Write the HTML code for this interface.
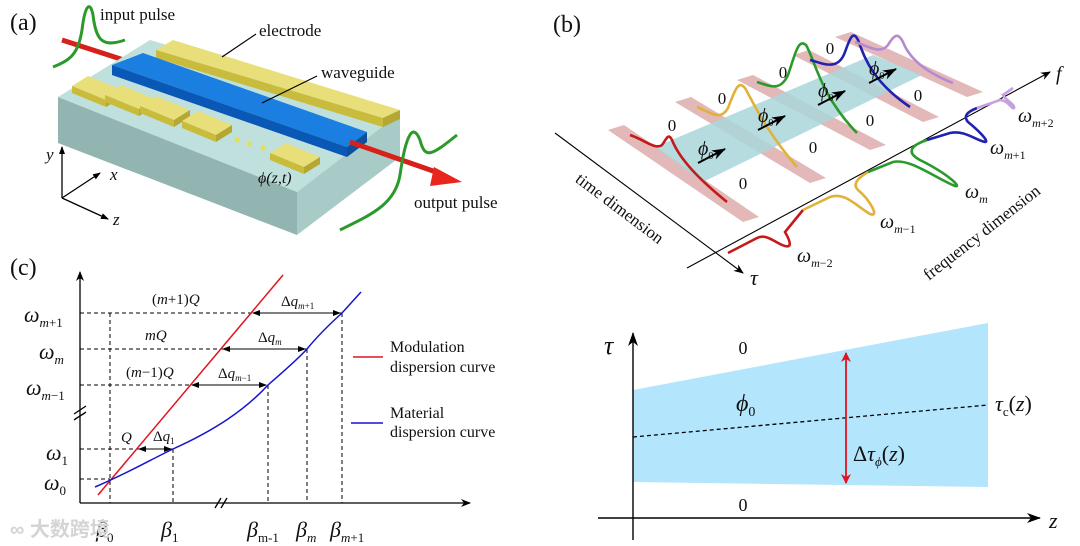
<!DOCTYPE html>
<html><head><meta charset="utf-8"><style>
html,body{margin:0;padding:0;background:#fff;}
svg{display:block;}
text{font-family:"Liberation Serif",serif;fill:#111;}
.it{font-style:italic;}
</style></head><body>
<svg width="1080" height="546" viewBox="0 0 1080 546" xmlns="http://www.w3.org/2000/svg">
<defs>
<marker id="ah" markerWidth="10" markerHeight="8" refX="9" refY="4" orient="auto" markerUnits="userSpaceOnUse"><path d="M0,0 L10,4 L0,8 L3,4 Z" fill="#000"/></marker>
<marker id="ahs" markerWidth="8" markerHeight="6" refX="7" refY="3" orient="auto-start-reverse" markerUnits="userSpaceOnUse"><path d="M0,0 L8,3 L0,6 Z" fill="#000"/></marker>
<marker id="ahr" markerWidth="10" markerHeight="10" refX="9" refY="5" orient="auto-start-reverse" markerUnits="userSpaceOnUse"><path d="M0,0 L10,5 L0,10 L3,5 Z" fill="#e0141e"/></marker>
<marker id="ahb" markerWidth="14" markerHeight="10" refX="13" refY="5" orient="auto" markerUnits="userSpaceOnUse"><path d="M0,0 L14,5 L0,10 L4,5 Z" fill="#000"/></marker>
</defs>

<!-- ===== Panel (a) ===== -->
<text x="10" y="30" font-size="24">(a)</text>
<!-- red arrow input part -->
<line x1="62" y1="40" x2="130" y2="62" stroke="#d8201a" stroke-width="5"/>
<!-- slab -->
<polygon points="58,97 150,40 400,113 297,192" fill="#bfe0dc"/>
<polygon points="58,97 297,192 297,235 58,143" fill="#93b5b2"/>
<polygon points="297,192 400,113 400,157 297,235" fill="#a9cbc7"/>
<!-- electrode -->
<polygon points="173,40 400,110 383,118 156,50" fill="#e8df7a"/>
<polygon points="156,50 383,118 383,127 156,58" fill="#c9bb3c"/>
<polygon points="383,118 400,110 400,119 383,127" fill="#b5a733"/>
<!-- waveguide -->
<polygon points="112,65 143,53 367,132 347,147" fill="#1a7fe0"/>
<polygon points="112,65 347,147 347,157 112,75" fill="#0a58b5"/>
<polygon points="347,147 367,132 367,142 347,157" fill="#0b4f9f"/>
<!-- pads -->
<g>
<polygon points="88,76 122,90 106,100 72,86" fill="#e8df7a"/><polygon points="72,86 106,100 106,107 72,93" fill="#c9bb3c"/><polygon points="106,100 122,90 122,97 106,107" fill="#b5a733"/>
<polygon points="121,85 155,99 139,109 105,95" fill="#e8df7a"/><polygon points="105,95 139,109 139,116 105,102" fill="#c9bb3c"/><polygon points="139,109 155,99 155,106 139,116" fill="#b5a733"/>
<polygon points="156,96 190,110 174,120 140,106" fill="#e8df7a"/><polygon points="140,106 174,120 174,127 140,113" fill="#c9bb3c"/><polygon points="174,120 190,110 190,117 174,127" fill="#b5a733"/>
<polygon points="198,111 232,125 216,135 182,121" fill="#e8df7a"/><polygon points="182,121 216,135 216,142 182,128" fill="#c9bb3c"/><polygon points="216,135 232,125 232,132 216,142" fill="#b5a733"/>
<polygon points="286,143 320,157 304,167 270,153" fill="#e8df7a"/><polygon points="270,153 304,167 304,174 270,160" fill="#c9bb3c"/><polygon points="304,167 320,157 320,164 304,174" fill="#b5a733"/>
</g>
<circle cx="237" cy="140" r="2.5" fill="#e8df50"/><circle cx="249" cy="144" r="2.5" fill="#e8df50"/><circle cx="263" cy="148" r="2.5" fill="#e8df50"/>
<!-- red arrow output -->
<line x1="350" y1="142" x2="436" y2="172" stroke="#d8201a" stroke-width="5"/>
<polygon points="462,182 430,186 434,167" fill="#e8261e"/>
<!-- pulses -->
<path d="M53,67 C70,60 78,55 82,30 C85,5 90,0 93,15 C96,40 102,48 125,40" fill="none" stroke="#2a9a2a" stroke-width="3"/>
<path d="M340,230 C370,215 395,205 400,175 C405,140 412,120 420,140 C425,160 432,155 457,135" fill="none" stroke="#2a9a2a" stroke-width="3"/>
<!-- leaders -->
<line x1="222" y1="57" x2="256" y2="34" stroke="#000" stroke-width="1.2"/>
<line x1="262" y1="103" x2="317" y2="76" stroke="#000" stroke-width="1.2"/>
<text x="100" y="20" font-size="17">input pulse</text>
<text x="259" y="36" font-size="17">electrode</text>
<text x="321" y="78" font-size="17">waveguide</text>
<text x="414" y="208" font-size="17">output pulse</text>
<text x="258" y="183" font-size="16" class="it">ϕ(z,t)</text>
<!-- axes -->
<line x1="62" y1="198" x2="62" y2="147" stroke="#000" stroke-width="1.3" marker-end="url(#ahs)"/>
<line x1="62" y1="198" x2="100" y2="173" stroke="#000" stroke-width="1.3" marker-end="url(#ahs)"/>
<line x1="62" y1="198" x2="108" y2="219" stroke="#000" stroke-width="1.3" marker-end="url(#ahs)"/>
<text x="46" y="160" font-size="17" class="it">y</text>
<text x="110" y="180" font-size="17" class="it">x</text>
<text x="113" y="225" font-size="17" class="it">z</text>

<!-- ===== Panel (b) ===== -->
<text x="553" y="32" font-size="24">(b)</text>
<!-- strips -->
<g fill="#e2b8b8">
<polygon points="608,130 624,125 759,217 743,222"/>
<polygon points="675,102 691,97 826,178 810,183"/>
<polygon points="737,80 753,75 886,145 870,150"/>
<polygon points="793,55 809,50 939,117 923,122"/>
<polygon points="835,37 851,32 983,92 967,97"/>
</g>
<polygon points="655,147 873,55 922,75 703,182" fill="#a9d6da" opacity="0.85"/>
<!-- pulses on strips -->
<g fill="none" stroke-width="2.6">
<path d="M630,135 C645,140 655,150 662,145 C666,140 668,132 672,140 C680,160 700,180 727,202" stroke="#c41a1a"/>
<path d="M697,107 C710,112 720,122 728,108 C735,90 738,80 745,88 C752,100 765,130 797,167" stroke="#e0b23a"/>
<path d="M757,82 C770,86 780,92 788,75 C795,55 798,38 806,45 C815,60 820,95 857,133" stroke="#2a9a2a"/>
<path d="M810,60 C822,63 838,72 845,52 C850,38 853,30 858,40 C864,55 870,80 910,107" stroke="#2222b0"/>
<path d="M855,42 C868,46 880,55 888,45 C894,35 898,32 903,42 C908,55 920,70 953,83" stroke="#b58ad0"/>
</g>
<!-- zeros -->
<g font-size="17" text-anchor="middle">
<text x="672" y="131">0</text><text x="722" y="104">0</text><text x="783" y="78">0</text><text x="830" y="54">0</text>
<text x="743" y="189">0</text><text x="813" y="153">0</text><text x="870" y="126">0</text><text x="918" y="101">0</text>
</g>
<!-- phi0 with arrows -->
<g font-size="20" class="it">
<text x="698" y="155">ϕ<tspan font-size="10" dy="4" font-style="normal">0</tspan></text>
<text x="758" y="122">ϕ<tspan font-size="10" dy="4" font-style="normal">0</tspan></text>
<text x="818" y="97">ϕ<tspan font-size="10" dy="4" font-style="normal">0</tspan></text>
<text x="869" y="75">ϕ<tspan font-size="10" dy="4" font-style="normal">0</tspan></text>
</g>
<g stroke="#000" stroke-width="2">
<line x1="698" y1="163" x2="725" y2="149" marker-end="url(#ahb)"/>
<line x1="758" y1="130" x2="785" y2="116" marker-end="url(#ahb)"/>
<line x1="818" y1="105" x2="845" y2="91" marker-end="url(#ahb)"/>
<line x1="869" y1="83" x2="896" y2="69" marker-end="url(#ahb)"/>
</g>
<!-- axes b -->
<line x1="555" y1="133" x2="743" y2="273" stroke="#000" stroke-width="1.1" marker-end="url(#ah)"/>
<line x1="687" y1="268" x2="1050" y2="72" stroke="#000" stroke-width="1.1" marker-end="url(#ah)"/>
<text x="750" y="285" font-size="22" class="it">τ</text>
<text x="1056" y="80" font-size="20" class="it">f</text>
<text x="620" y="214" font-size="17" text-anchor="middle" transform="rotate(37 620 208)">time dimension</text>
<text x="982" y="238" font-size="17" text-anchor="middle" transform="rotate(-38 982 233)">frequency dimension</text>
<!-- frequency pulses -->
<g fill="none" stroke-width="2.6">
<path d="M728,253 L757,238 C765,234 772,240 780,244 C792,250 792,244 785,232 L803,210" stroke="#c41a1a"/>
<path d="M803,210 L830,197 C845,192 855,205 870,214 C880,218 870,200 858,190 C852,184 858,178 868,172" stroke="#e0b23a"/>
<path d="M868,172 L893,162 C910,158 935,178 955,186 C962,188 950,175 920,160 C905,152 912,145 927,140" stroke="#2a9a2a"/>
<path d="M927,140 L950,133 C965,130 975,140 985,142 C990,142 978,130 968,122 C963,116 967,112 977,108" stroke="#2222b0"/>
<path d="M977,108 L1000,100 C1008,100 1012,110 1014,108 C1015,104 1005,100 1003,95 L1013,88" stroke="#c8a0e0"/>
</g>
<g font-size="20" class="it">
<text x="797" y="262">ω<tspan font-size="12" dy="5">m</tspan><tspan font-size="12" font-style="normal">−2</tspan></text>
<text x="880" y="228">ω<tspan font-size="12" dy="5">m</tspan><tspan font-size="12" font-style="normal">−1</tspan></text>
<text x="965" y="198">ω<tspan font-size="12" dy="5">m</tspan></text>
<text x="990" y="154">ω<tspan font-size="12" dy="5">m</tspan><tspan font-size="12" font-style="normal">+1</tspan></text>
<text x="1018" y="122">ω<tspan font-size="12" dy="5">m</tspan><tspan font-size="12" font-style="normal">+2</tspan></text>
</g>

<!-- ===== Panel (c) ===== -->
<text x="10" y="275" font-size="24">(c)</text>
<line x1="80" y1="503" x2="80" y2="272" stroke="#000" stroke-width="1.3" marker-end="url(#ah)"/>
<line x1="80" y1="503" x2="470" y2="503" stroke="#000" stroke-width="1.3" marker-end="url(#ah)"/>
<line x1="75" y1="419" x2="85" y2="413" stroke="#000" stroke-width="1.3"/><line x1="75" y1="414" x2="85" y2="408" stroke="#000" stroke-width="1.3" opacity="0"/>
<line x1="215" y1="508" x2="221" y2="498" stroke="#000" stroke-width="1.3"/><line x1="221" y1="508" x2="227" y2="498" stroke="#000" stroke-width="1.3"/>
<line x1="74" y1="420" x2="86" y2="412" stroke="#000" stroke-width="1.3"/><line x1="74" y1="414" x2="86" y2="406" stroke="#000" stroke-width="1.3"/>
<g stroke="#000" stroke-width="1" stroke-dasharray="4,3" fill="none">
<line x1="80" y1="313" x2="342" y2="313"/><line x1="80" y1="349" x2="307" y2="349"/><line x1="80" y1="385" x2="268" y2="385"/>
<line x1="80" y1="449" x2="173" y2="449"/><line x1="80" y1="479" x2="110" y2="479"/>
<line x1="110" y1="313" x2="110" y2="503"/><line x1="173" y1="449" x2="173" y2="503"/><line x1="268" y1="385" x2="268" y2="503"/>
<line x1="307" y1="349" x2="307" y2="503"/><line x1="342" y1="313" x2="342" y2="503"/>
</g>
<line x1="98" y1="495" x2="283" y2="275" stroke="#e0141e" stroke-width="1.5"/>
<path d="M95,487 C130,472 150,460 173,449 C215,430 245,410 268,385 C285,370 297,360 307,349 C320,333 332,322 342,313 L361,292" fill="none" stroke="#1414d0" stroke-width="1.5"/>
<g stroke="#000" stroke-width="1">
<line x1="253" y1="313" x2="340" y2="313" marker-start="url(#ahs)" marker-end="url(#ahs)"/>
<line x1="223" y1="349" x2="305" y2="349" marker-start="url(#ahs)" marker-end="url(#ahs)"/>
<line x1="192" y1="385" x2="266" y2="385" marker-start="url(#ahs)" marker-end="url(#ahs)"/>
<line x1="139" y1="449" x2="171" y2="449" marker-start="url(#ahs)" marker-end="url(#ahs)"/>
</g>
<g font-size="15" class="it">
<text x="152" y="304"><tspan font-style="normal">(</tspan>m<tspan font-style="normal">+1)</tspan>Q</text>
<text x="145" y="340">mQ</text>
<text x="126" y="377"><tspan font-style="normal">(</tspan>m<tspan font-style="normal">−1)</tspan>Q</text>
<text x="121" y="442">Q</text>
<text x="281" y="306"><tspan font-style="normal">Δ</tspan>q<tspan font-size="9" dy="3">m</tspan><tspan font-size="9" font-style="normal">+1</tspan></text>
<text x="258" y="342"><tspan font-style="normal">Δ</tspan>q<tspan font-size="9" dy="3">m</tspan></text>
<text x="218" y="378"><tspan font-style="normal">Δ</tspan>q<tspan font-size="9" dy="3">m</tspan><tspan font-size="9" font-style="normal">−1</tspan></text>
<text x="153" y="441"><tspan font-style="normal">Δ</tspan>q<tspan font-size="9" dy="3" font-style="normal">1</tspan></text>
</g>
<g font-size="22" class="it">
<text x="24" y="322">ω<tspan font-size="13" dy="5">m</tspan><tspan font-size="13" font-style="normal">+1</tspan></text>
<text x="39" y="359">ω<tspan font-size="13" dy="5">m</tspan></text>
<text x="26" y="395">ω<tspan font-size="13" dy="5">m</tspan><tspan font-size="13" font-style="normal">−1</tspan></text>
<text x="46" y="460">ω<tspan font-size="13" dy="5" font-style="normal">1</tspan></text>
<text x="44" y="490">ω<tspan font-size="13" dy="5" font-style="normal">0</tspan></text>
<text x="96" y="537">β<tspan font-size="13" dy="5" font-style="normal">0</tspan></text>
<text x="161" y="537">β<tspan font-size="13" dy="5" font-style="normal">1</tspan></text>
<text x="247" y="537">β<tspan font-size="13" dy="5" font-style="normal">m-1</tspan></text>
<text x="296" y="537">β<tspan font-size="13" dy="5">m</tspan></text>
<text x="330" y="537">β<tspan font-size="13" dy="5">m</tspan><tspan font-size="13" font-style="normal">+1</tspan></text>
</g>
<line x1="353" y1="357" x2="383" y2="357" stroke="#e0141e" stroke-width="1.5"/>
<line x1="351" y1="423" x2="383" y2="423" stroke="#1414d0" stroke-width="1.5"/>
<g font-size="16">
<text x="390" y="352">Modulation</text><text x="390" y="372">dispersion curve</text>
<text x="390" y="418">Material</text><text x="390" y="437">dispersion curve</text>
</g>
<text x="10" y="536" font-size="20" fill="#ccc" style="fill:#d4d4d4;font-family:'Liberation Sans','Noto Sans CJK SC',sans-serif;font-weight:bold">∞ 大数跨境</text>

<!-- ===== Panel (d) ===== -->
<polygon points="633,390 988,323 988,487 633,482" fill="#b3e5fc"/>
<line x1="633" y1="437" x2="988" y2="405" stroke="#000" stroke-width="1.3" stroke-dasharray="4,3"/>
<line x1="633" y1="540" x2="633" y2="333" stroke="#000" stroke-width="1.4" marker-end="url(#ahb)"/>
<line x1="598" y1="518" x2="1040" y2="518" stroke="#000" stroke-width="1.4" marker-end="url(#ahb)"/>
<line x1="846" y1="353" x2="846" y2="483" stroke="#e0141e" stroke-width="1.8" marker-start="url(#ahr)" marker-end="url(#ahr)"/>
<text x="604" y="354" font-size="26" class="it">τ</text>
<text x="1049" y="528" font-size="22" class="it">z</text>
<text x="743" y="354" font-size="18" text-anchor="middle">0</text>
<text x="743" y="511" font-size="18" text-anchor="middle">0</text>
<text x="736" y="411" font-size="24" class="it">ϕ<tspan font-size="14" dy="5" font-style="normal">0</tspan></text>
<text x="995" y="411" font-size="22" class="it">τ<tspan font-size="13" dy="5" font-style="normal">c</tspan><tspan dy="-5" font-style="normal">(</tspan>z<tspan font-style="normal">)</tspan></text>
<text x="853" y="461" font-size="22" class="it"><tspan font-style="normal">Δ</tspan>τ<tspan font-size="13" dy="5">ϕ</tspan><tspan dy="-5" font-style="normal">(</tspan>z<tspan font-style="normal">)</tspan></text>
</svg>
</body></html>
